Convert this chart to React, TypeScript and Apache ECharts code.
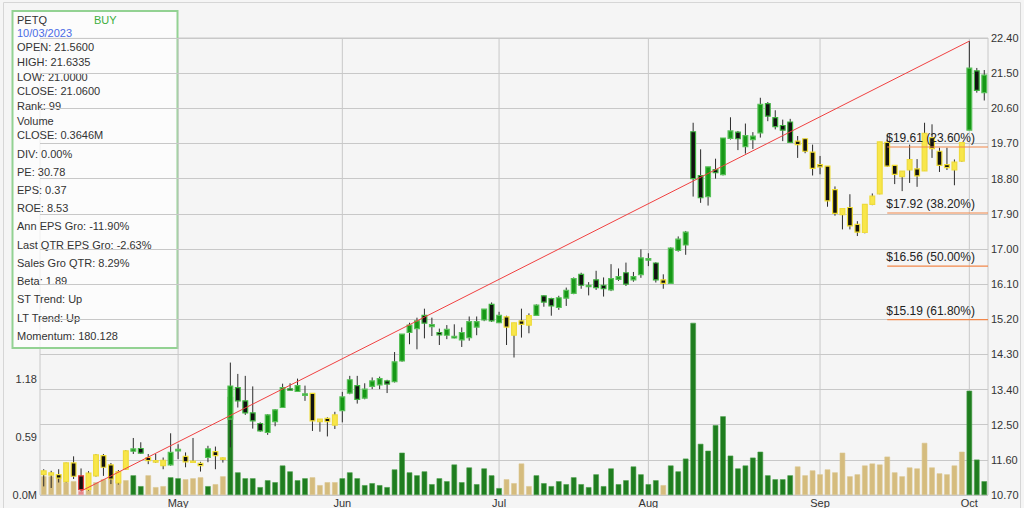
import React, { useEffect, useRef } from "react";
import * as echarts from "echarts";

// ---- trading days (categories) ----
const aprDays = [4, 5, 6, 10, 11, 12, 13, 14, 17, 18, 19, 20, 21, 24, 25, 26, 27, 28];
const mayDays = [1, 2, 3, 4, 5, 8, 9, 10, 11, 12, 15, 16, 17, 18, 19, 22, 23, 24, 25, 26, 30, 31];
const junDays = [1, 2, 5, 6, 7, 8, 9, 12, 13, 14, 15, 16, 20, 21, 22, 23, 26, 27, 28, 29, 30];
const julDays = [3, 5, 6, 7, 10, 11, 12, 13, 14, 17, 18, 19, 20, 21, 24, 25, 26, 27, 28, 31];
const augDays = [1, 2, 3, 4, 7, 8, 9, 10, 11, 14, 15, 16, 17, 18, 21, 22, 23, 24, 25, 28, 29, 30, 31];
const sepDays = [1, 5, 6, 7, 8, 11, 12, 13, 14, 15, 18, 19, 20, 21, 22, 25, 26, 27, 28, 29];
const octDays = [2, 3, 4];
const monthNames = ["Apr", "May", "Jun", "Jul", "Aug", "Sep", "Oct"];

// ---- prices ----
const opens = [
  11.22, 11.21, 11.22, 11.04, 11.52, 11.19, 10.84, 11.19, 11.71, 11.47,
  11.01, 11.36, 11.82, 11.89, 11.66, 11.55, 11.45, 11.47, 11.83, 11.69,
  11.55, 11.51, 11.66, 11.81, 11.62, 12.64, 13.45, 13.11, 12.80, 12.53,
  12.30, 12.58, 12.94, 13.42, 13.35, 13.25, 13.30, 12.58, 12.66, 12.49,
  12.86, 13.31, 13.50, 13.18, 13.48, 13.52, 13.62, 13.60, 14.13, 14.86,
  14.96, 15.30, 15.01, 14.86, 14.79, 14.72, 14.67, 14.73, 15.00, 15.18,
  15.58, 15.11, 15.26, 14.79, 15.16, 15.05, 15.30, 15.80, 15.73, 15.50,
  15.74, 15.86, 16.35, 16.05, 16.21, 16.07, 15.95, 16.22, 16.39, 16.21,
  16.34, 16.72, 16.64, 16.21, 16.12, 16.96, 17.10, 20.00, 18.88, 18.34,
  19.03, 18.90, 19.83, 19.99, 19.62, 19.80, 19.97, 20.72, 20.36, 20.16,
  20.25, 19.76, 19.82, 19.48, 19.16, 19.12, 18.52, 17.88, 18.06, 17.63,
  17.42, 18.14, 18.41, 19.73, 19.14, 18.85, 19.02, 19.05, 19.00, 19.85,
  19.50, 19.16, 19.02, 19.25, 20.04, 21.56, 21.00,
];
const highs = [
  11.36, 11.32, 11.36, 11.53, 11.69, 11.38, 11.31, 11.75, 11.75, 11.52,
  11.34, 11.85, 12.16, 12.05, 11.75, 11.75, 11.66, 12.28, 12.00, 11.79,
  12.16, 11.55, 11.96, 11.94, 11.66, 14.09, 13.80, 13.75, 13.48, 12.56,
  12.77, 12.90, 13.55, 13.56, 13.68, 13.50, 13.30, 12.64, 12.69, 12.83,
  13.34, 13.75, 13.75, 13.56, 13.71, 13.73, 13.65, 14.36, 14.82, 15.11,
  15.24, 15.47, 15.24, 14.96, 15.05, 15.07, 14.99, 15.27, 15.27, 15.46,
  15.63, 15.39, 15.29, 15.11, 15.47, 15.35, 15.58, 15.81, 15.75, 15.80,
  16.01, 16.27, 16.39, 16.15, 16.44, 16.27, 16.61, 16.50, 16.65, 16.41,
  16.99, 16.89, 16.66, 16.35, 17.04, 17.32, 17.46, 20.23, 19.55, 19.10,
  19.31, 19.84, 20.37, 20.02, 20.21, 19.99, 20.87, 20.76, 20.55, 20.31,
  20.33, 19.89, 19.82, 19.67, 19.38, 19.12, 18.60, 18.03, 18.40, 17.71,
  18.14, 18.42, 19.74, 19.92, 19.14, 18.99, 19.67, 19.30, 20.23, 20.19,
  19.59, 19.59, 19.29, 19.72, 22.32, 21.6335, 21.58,
];
const lows = [
  10.92, 10.88, 11.02, 11.02, 11.11, 10.80, 10.81, 11.17, 11.19, 10.98,
  10.97, 11.34, 11.75, 11.75, 11.49, 11.52, 11.36, 11.45, 11.62, 11.41,
  11.53, 11.30, 11.54, 11.36, 11.53, 11.92, 12.94, 12.75, 12.40, 12.32,
  12.24, 12.46, 12.94, 13.39, 13.35, 13.11, 12.34, 12.32, 12.20, 12.39,
  12.56, 13.28, 13.04, 13.15, 13.41, 13.41, 13.31, 13.58, 14.11, 14.56,
  14.43, 14.71, 14.77, 14.54, 14.69, 14.71, 14.49, 14.65, 14.79, 15.15,
  15.13, 15.10, 14.54, 14.22, 14.73, 14.84, 15.29, 15.52, 15.29, 15.44,
  15.54, 15.84, 15.98, 15.81, 15.95, 15.78, 15.92, 16.18, 16.05, 16.16,
  16.26, 16.56, 16.14, 15.98, 16.12, 16.93, 16.85, 18.34, 18.18, 18.11,
  18.80, 18.88, 19.80, 19.53, 19.44, 19.56, 19.85, 20.27, 20.06, 19.76,
  19.73, 19.33, 19.45, 18.88, 18.91, 18.08, 17.85, 17.50, 17.50, 17.33,
  17.40, 18.12, 18.40, 19.10, 18.66, 18.48, 18.69, 18.59, 19.00, 19.33,
  18.97, 19.02, 18.63, 19.23, 20.04, 21.00, 20.80,
];
const closes = [
  11.32, 11.27, 11.13, 11.52, 11.18, 10.84, 11.26, 11.73, 11.41, 11.11,
  11.30, 11.83, 11.88, 11.77, 11.58, 11.58, 11.59, 11.79, 11.87, 11.55,
  11.57, 11.45, 11.88, 11.71, 11.65, 13.49, 13.11, 12.80, 12.60, 12.34,
  12.75, 12.88, 13.45, 13.39, 13.50, 13.29, 12.60, 12.64, 12.58, 12.75,
  13.21, 13.65, 13.15, 13.41, 13.62, 13.68, 13.54, 14.11, 14.82, 15.05,
  15.16, 15.10, 15.06, 14.80, 14.94, 14.76, 14.86, 15.14, 15.14, 15.46,
  15.16, 15.30, 15.00, 15.11, 15.07, 15.29, 15.56, 15.64, 15.54, 15.75,
  15.94, 16.24, 16.07, 16.07, 16.01, 15.98, 16.24, 16.29, 16.10, 16.29,
  16.77, 16.75, 16.21, 16.12, 17.02, 17.25, 17.43, 18.80, 18.31, 19.10,
  18.95, 19.84, 20.02, 19.82, 19.90, 19.89, 20.70, 20.40, 20.13, 20.04,
  19.73, 19.67, 19.50, 19.06, 19.10, 18.23, 17.91, 18.03, 17.59, 17.43,
  18.14, 18.35, 19.74, 19.12, 18.91, 18.99, 19.29, 18.87, 19.96, 19.57,
  19.14, 19.08, 19.22, 19.72, 21.63, 21.06, 21.45,
];
// ---- volume (millions) ----
const volumes = [
  0.19, 0.19, 0.17, 0.13, 0.14, 0.04, 0.05, 0.13, 0.16, 0.17,
  0.15, 0.15, 0.20, 0.09, 0.20, 0.08, 0.09, 0.18, 0.17, 0.16,
  0.17, 0.18, 0.09, 0.11, 0.19, 1.00, 0.23, 0.17, 0.17, 0.08,
  0.15, 0.13, 0.30, 0.24, 0.15, 0.17, 0.18, 0.10, 0.13, 0.13,
  0.17, 0.23, 0.17, 0.10, 0.12, 0.10, 0.08, 0.26, 0.43, 0.23,
  0.20, 0.24, 0.11, 0.17, 0.14, 0.31, 0.13, 0.28, 0.11, 0.27,
  0.20, 0.07, 0.16, 0.12, 0.32, 0.09, 0.20, 0.12, 0.09, 0.14,
  0.11, 0.18, 0.11, 0.08, 0.21, 0.09, 0.27, 0.11, 0.15, 0.29,
  0.21, 0.11, 0.15, 0.10, 0.30, 0.24, 0.37, 1.75, 0.52, 0.45,
  0.71, 0.80, 0.40, 0.27, 0.30, 0.38, 0.44, 0.20, 0.16, 0.16,
  0.20, 0.29, 0.20, 0.25, 0.21, 0.26, 0.23, 0.43, 0.19, 0.21,
  0.30, 0.32, 0.31, 0.39, 0.23, 0.19, 0.28, 0.27, 0.53, 0.28,
  0.22, 0.21, 0.30, 0.44, 1.06, 0.36, 0.14,
];
// trend runs: G = green, Y = yellow, R = red
const trendRuns: [string, number][] = [
  ["Y", 5], ["R", 1], ["Y", 6], ["G", 2], ["Y", 3], ["G", 2], ["Y", 3], ["G", 1], ["Y", 2],
  ["G", 11], ["Y", 4], ["G", 22], ["Y", 4], ["G", 17], ["Y", 1], ["G", 17], ["Y", 23], ["G", 3],
];
// trend line endpoints (index, price)
const trendLine = [[5, 10.8], [124, 22.32]];
// fibonacci retracements
const fibStart = 113;
const fibPrices = [19.61, 17.92, 16.56, 15.19];
const fibPcts = [23.6, 38.2, 50.0, 61.8];
// info panel
const infoTicker = "PETQ";
const infoSignal = "BUY";
const infoDate = "10/03/2023";
const infoLines = [
  "OPEN: 21.5600", "HIGH: 21.6335", "LOW: 21.0000", "CLOSE: 21.0600", "Rank: 99", "Volume",
  "CLOSE: 0.3646M", "DIV: 0.00%", "PE: 30.78", "EPS: 0.37", "ROE: 8.53", "Ann EPS Gro: -11.90%",
  "Last QTR EPS Gro: -2.63%", "Sales Gro QTR: 8.29%", "Beta: 1.89", "ST Trend: Up", "LT Trend: Up",
  "Momentum: 180.128",
];
const infoLineY = [46.5, 61.5, 76.5, 91, 106, 120.5, 135, 153.5, 171.5, 189.5, 207.5, 226, 244.5, 262.5, 281, 299, 317.5, 335.5];

const FONT = '"Liberation Sans", Arial, sans-serif';

const palette: Record<string, { up: string; border: string; downBorder: string; vol: string; volBorder: string }> = {
  G: { up: "#169816", border: "#58c058", downBorder: "#3fb33f", vol: "#1f7d1f", volBorder: "#4a9f4a" },
  Y: { up: "#f8e64a", border: "#eedb3c", downBorder: "#efdc30", vol: "#d5bc7e", volBorder: "#dcc792" },
  R: { up: "#e83c3c", border: "#e83c3c", downBorder: "#e23a3a", vol: "#e58a8a", volBorder: "#eaa0a0" },
};

export default function App() {
  const ref = useRef<HTMLDivElement>(null);
  useEffect(() => {
    if (!ref.current) return;
    const trends: string[] = [];
    trendRuns.forEach(([t, n]) => {
      for (let k = 0; k < n; k++) trends.push(t);
    });
    const monthDays = [aprDays, mayDays, junDays, julDays, augDays, sepDays, octDays];
    const dates: string[] = [];
    const monthOf: number[] = [];
    monthDays.forEach((days, m) => {
      days.forEach((d) => {
        dates.push(`2023-${String(m + 4).padStart(2, "0")}-${String(d).padStart(2, "0")}`);
        monthOf.push(m);
      });
    });
    const isMonthStart = (i: number) => i > 0 && monthOf[i] !== monthOf[i - 1];
    const monthStarts = dates.map((_, i) => i).filter(isMonthStart);

    const chart = echarts.init(ref.current, null, { renderer: "svg" });

    const candleData = dates.map((_, i) => [i, opens[i], closes[i], lows[i], highs[i]]);

    const infoChildren: any[] = [
      {
        type: "rect",
        shape: { x: 12.5, y: 11, width: 165, height: 337 },
        style: { fill: "rgba(255,255,255,0.72)", stroke: "#93d293", lineWidth: 2 },
      },
      { type: "text", style: { text: infoTicker, x: 17, y: 20, verticalAlign: "middle", fill: "#333", font: `11px ${FONT}` } },
      { type: "text", style: { text: infoSignal, x: 94, y: 20, verticalAlign: "middle", fill: "#3cae3c", font: `11px ${FONT}` } },
      { type: "text", style: { text: infoDate, x: 17, y: 32.5, verticalAlign: "middle", fill: "#4a6be6", font: `11px ${FONT}` } },
    ];
    infoLines.forEach((t, k) => {
      infoChildren.push({
        type: "text",
        style: { text: t, x: 17, y: infoLineY[k], verticalAlign: "middle", fill: "#333", font: `11px ${FONT}` },
      });
    });

    chart.setOption({
      animation: false,
      backgroundColor: "#f5f5f5",
      textStyle: { fontFamily: FONT },
      grid: {
        left: 40,
        right: 36,
        top: 38,
        bottom: 12,
        show: true,
        borderColor: "#c8c8c8",
        borderWidth: 1,
        backgroundColor: "transparent",
      },
      xAxis: {
        type: "category",
        data: dates,
        boundaryGap: true,
        axisLine: { show: false },
        axisTick: { show: false },
        splitLine: { show: false },
        axisLabel: {
          interval: (index: number) => isMonthStart(index),
          formatter: (_v: string, index: number) => monthNames[monthOf[index]],
          fontSize: 11,
          color: "#333",
          margin: 2,
          fontFamily: FONT,
        },
      },
      yAxis: [
        {
          type: "value",
          position: "right",
          min: 10.7,
          max: 22.4,
          interval: 0.9,
          axisLine: { show: false },
          axisTick: { show: false },
          splitLine: { show: true, lineStyle: { color: "#c8c8c8", width: 1 } },
          axisLabel: {
            formatter: (v: number) => v.toFixed(2),
            fontSize: 11,
            color: "#333",
            margin: 3,
            padding: [0, 0, 8, 0],
            fontFamily: FONT,
          },
        },
        {
          type: "value",
          position: "left",
          min: 0,
          max: 4.645,
          interval: 0.59,
          axisLine: { show: false },
          axisTick: { show: false },
          splitLine: { show: false },
          axisLabel: {
            formatter: (v: number) => (v === 0 ? "0.0M" : v < 1.2 ? v.toFixed(2) : ""),
            fontSize: 11,
            color: "#333",
            margin: 3,
            padding: [0, 0, 8, 0],
            fontFamily: FONT,
          },
        },
      ],
      series: [
        {
          type: "custom",
          name: "monthLines",
          z: 0,
          silent: true,
          data: monthStarts.map((i) => [i, 15]),
          renderItem: (params: any, api: any) => {
            const p = api.coord([api.value(0), 15]);
            const cs = params.coordSys;
            return {
              type: "line",
              shape: { x1: p[0], y1: cs.y, x2: p[0], y2: cs.y + cs.height },
              style: { stroke: "#c8c8c8", lineWidth: 1 },
            };
          },
        },
        {
          type: "bar",
          name: "Volume",
          yAxisIndex: 1,
          z: 1,
          barWidth: "74%",
          silent: true,
          data: volumes.map((v, i) => ({
            value: v,
            itemStyle: {
              color: palette[trends[i]].vol,
              borderColor: palette[trends[i]].volBorder,
              borderWidth: 0.6,
            },
          })),
        },
        {
          type: "custom",
          name: "PETQ",
          yAxisIndex: 0,
          z: 3,
          silent: true,
          data: candleData,
          encode: { x: 0, y: [1, 2, 3, 4] },
          renderItem: (params: any, api: any) => {
            const i = api.value(0);
            const o = api.value(1);
            const c = api.value(2);
            const l = api.value(3);
            const h = api.value(4);
            const pal = palette[trends[i]];
            const top = api.coord([i, h]);
            const bot = api.coord([i, l]);
            const po = api.coord([i, o]);
            const pc = api.coord([i, c]);
            const bw = api.size([1, 0])[0] * 0.64;
            const up = c >= o;
            const y0 = Math.min(po[1], pc[1]);
            const hh = Math.max(Math.abs(po[1] - pc[1]), 1.5);
            return {
              type: "group",
              children: [
                {
                  type: "line",
                  shape: { x1: top[0], y1: top[1], x2: bot[0], y2: bot[1] },
                  style: { stroke: "#2b2b2b", lineWidth: 1 },
                },
                {
                  type: "rect",
                  shape: { x: top[0] - bw / 2, y: y0, width: bw, height: hh },
                  style: {
                    fill: up ? pal.up : "#111111",
                    stroke: up ? pal.border : pal.downBorder,
                    lineWidth: 1.2,
                  },
                },
              ],
            };
          },
        },
        {
          type: "line",
          name: "trend",
          yAxisIndex: 0,
          z: 4,
          silent: true,
          symbol: "none",
          data: trendLine,
          lineStyle: { color: "#f04040", width: 1 },
        },
        {
          type: "custom",
          name: "fib",
          yAxisIndex: 0,
          z: 5,
          silent: true,
          data: fibPrices.map((p, k) => [fibStart, p, fibPcts[k]]),
          renderItem: (params: any, api: any) => {
            const i = api.value(0);
            const v = api.value(1);
            const pct = api.value(2);
            const p = api.coord([i, v]);
            const cs = params.coordSys;
            return {
              type: "group",
              children: [
                {
                  type: "line",
                  shape: { x1: p[0], y1: p[1], x2: cs.x + cs.width, y2: p[1] },
                  style: { stroke: "#f2874a", lineWidth: 1.2 },
                },
                {
                  type: "text",
                  style: {
                    text: `$${v.toFixed(2)} (${pct.toFixed(2)}%)`,
                    x: p[0] - 1,
                    y: p[1] - 9,
                    verticalAlign: "middle",
                    fill: "#222",
                    font: `12px ${FONT}`,
                  },
                },
              ],
            };
          },
        },
      ],
      graphic: [
        {
          type: "rect",
          silent: true,
          shape: { x: 3.5, y: 2.5, width: 1017, height: 530 },
          style: { fill: "none", stroke: "#d6d6d6", lineWidth: 1 },
        },
        { type: "group", children: infoChildren },
      ],
    });
    return () => chart.dispose();
  }, []);
  return (
    <div
      ref={ref}
      style={{ width: 1024, height: 508, position: "absolute", left: 0, top: 0 }}
    />
  );
}
